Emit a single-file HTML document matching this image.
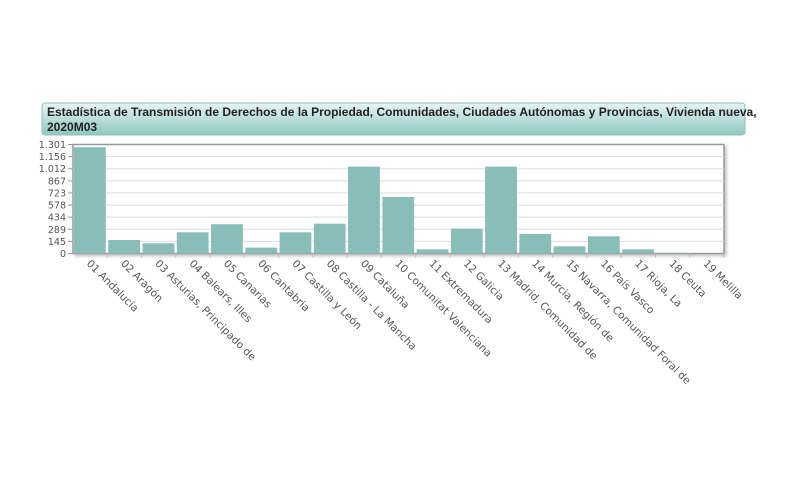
<!DOCTYPE html>
<html><head><meta charset="utf-8"><style>
html,body{margin:0;padding:0;background:#fff;width:800px;height:500px;overflow:hidden}
svg{display:block}
</style></head><body>
<svg width="800" height="500">
<defs>
<linearGradient id="tg" x1="0" y1="0" x2="0" y2="1">
<stop offset="0" stop-color="#e8f5f3"/><stop offset="1" stop-color="#8ec7c0"/>
</linearGradient>
<filter id="sh" x="-5%" y="-5%" width="110%" height="115%"><feDropShadow dx="2" dy="2" stdDeviation="1.5" flood-color="#999" flood-opacity="0.6"/></filter>
</defs>
<rect x="42" y="103" width="703" height="32" rx="3" fill="url(#tg)" stroke="#8fbfb9"/>
<text x="47" y="116" font-family="Liberation Sans, sans-serif" font-size="12" font-weight="bold" fill="#222">Estadística de Transmisión de Derechos de la Propiedad, Comunidades, Ciudades Autónomas y Provincias, Vivienda nueva,</text>
<text x="47" y="131" font-family="Liberation Sans, sans-serif" font-size="12" font-weight="bold" fill="#222">2020M03</text>
<rect x="73" y="144.5" width="651" height="109" fill="#fff" stroke="#999" stroke-width="1.5" filter="url(#sh)"/>
<g id="grid"></g><g id="bars"></g><g id="yaxis"></g><g id="xaxis"></g>
</svg>
<script>
const categories=["01 Andalucía","02 Aragón","03 Asturias, Principado de","04 Balears, Illes","05 Canarias","06 Cantabria","07 Castilla y León","08 Castilla - La Mancha","09 Cataluña","10 Comunitat Valenciana","11 Extremadura","12 Galicia","13 Madrid, Comunidad de","14 Murcia, Región de","15 Navarra, Comunidad Foral de","16 País Vasco","17 Rioja, La","18 Ceuta","19 Melilla"];
const values=[1269,161,122,253,349,70,253,356,1037,675,50,296,1037,233,86,205,50,3,1];
const tickValues=[0,145,289,434,578,723,867,1012,1156,1301];
const tickLabels=["0","145","289","434","578","723","867","1.012","1.156","1.301"];
const NS="http://www.w3.org/2000/svg";
const X0=73,X1=724,Y0=253.5,Y1=144.5,YMAX=1301;
const slot=(X1-X0)/categories.length;
function y(v){return Y0-(v/YMAX)*(Y0-Y1);}
function x(i){return X0+i*slot;}
function mk(t,a,p){const e=document.createElementNS(NS,t);for(const k in a)e.setAttribute(k,a[k]);document.getElementById(p).appendChild(e);return e;}
tickValues.forEach((v,i)=>{
 if(i>0&&i<tickValues.length-1){const g=mk("line",{x1:X0,x2:X1,y1:y(v),y2:y(v),stroke:"#ddd","stroke-width":1},"grid");
 
 }
 const tk=mk("line",{x1:X0-5,x2:X0,y1:y(v),y2:y(v),stroke:"#999"},"yaxis");
 
 
 const t=mk("text",{x:X0-7,y:y(v)+3.5,"text-anchor":"end","font-family":"DejaVu Sans, sans-serif","font-size":"9.5",fill:"#555"},"yaxis");
 t.textContent=tickLabels[i];
 
 
});
values.forEach((v,i)=>{
 const b=mk("rect",{x:x(i)+1,y:y(v),width:slot-2.5,height:Y0-y(v),fill:"#88bdb8"},"bars");
 
 
});
categories.forEach((c,i)=>{
 const tk=mk("line",{x1:x(i+1),x2:x(i+1),y1:Y0,y2:Y0+4,stroke:"#bbb"},"xaxis");
 
 
 const cx=x(i)+slot/2-2,cy=262;
 const t=mk("text",{x:cx,y:cy,transform:`rotate(45 ${cx} ${cy})`,"font-family":"DejaVu Sans, sans-serif","font-size":"10.5",fill:"#555","dominant-baseline":"middle"},"xaxis");
 t.textContent=c;
 
 
});
</script>
</body></html>
